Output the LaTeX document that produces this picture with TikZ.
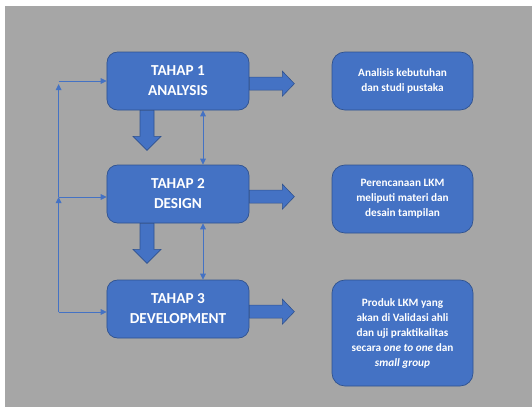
\documentclass[tikz,border=0pt]{standalone}
\usepackage{fontspec}
\setmainfont{Carlito}
\usepackage{tikz}
\usetikzlibrary{arrows.meta, positioning}

\definecolor{bgrey}{HTML}{A6A6A6}
\definecolor{oblue}{HTML}{4472C4}
\definecolor{oedge}{HTML}{2F528F}

\tikzset{
  tahap/.style={draw=oedge, fill=oblue, rounded corners=9pt, line width=0.6pt,
    minimum width=4.26cm, minimum height=1.74cm, text=white, align=center,
    font=\fontsize{13}{17}\selectfont\bfseries},
  ket/.style={draw=oedge, fill=oblue, rounded corners=11pt, line width=0.6pt,
    minimum width=4.23cm, text=white, align=center,
    font=\fontsize{9.6}{12.8}\selectfont\bfseries},
  blok/.style={draw=oedge, fill=oblue, line width=0.5pt},
  tipis/.style={draw=oblue, line width=0.8pt, -{Triangle[length=1.8mm,width=1.7mm]}},
  dua/.style={draw=oblue, line width=0.8pt, {Triangle[length=1.8mm,width=1.7mm]}-{Triangle[length=1.8mm,width=1.7mm]}}
}

\begin{document}
\begin{tikzpicture}[x=0.03cm, y=-0.03cm]
		% background
		\useasboundingbox (0,0) rectangle (532,407);
		\fill[white] (0,0) rectangle (532,407);
		\fill[bgrey] (5,6) rectangle (532,407);
		
		% Stages (left)
		\node[tahap] (b1) at (178,81) {TAHAP 1\\ANALYSIS};
		\node[tahap] (b2) at (178,194) {TAHAP 2\\DESIGN};
		\node[tahap] (b3) at (178,309) {TAHAP 3\\DEVELOPMENT};
		
		% Descriptions (right)
		\node[ket, minimum height=1.74cm] (r1) at (402.5,81) {Analisis kebutuhan\\dan studi pustaka};
		\node[ket, minimum height=2.04cm] (r2) at (402.5,199) {Perencanaan LKM\\meliputi materi dan\\desain tampilan};
		\node[ket, minimum height=3.18cm] (r3) at (402.5,333) {Produk LKM yang\\akan di Validasi ahli\\dan uji praktikalitas\\secara \textit{one to one} dan\\\textit{small group}};
		
		% Block arrows to the right
		\foreach \b in {b1,b2,b3}{
			\draw[blok] ([yshift=-0.08cm]\b.east) ++(0,-6.5) -- ++(33,0) -- ++(0,-6) -- ++(12,12.5)
				-- ++(-12,12.5) -- ++(0,-6) -- ++(-33,0) -- cycle;
		}
		
		% Block arrows down
		\foreach \b in {b1,b2}{
			\draw[blok] ([xshift=-0.93cm]\b.south) ++(-7,0) -- ++(0,26) -- ++(-7,0) -- ++(14,14)
				-- ++(14,-14) -- ++(-7,0) -- ++(0,-26) -- cycle;
		}
		
		% Two-way links
		\draw[dua] ([xshift=0.75cm]b1.south) -- ([xshift=0.75cm]b2.north);
		\draw[dua] ([xshift=0.75cm]b2.south) -- ([xshift=0.75cm]b3.north);
		
		% Feedback line (left)
		\coordinate (l1) at ([xshift=-1.44cm]b1.west);
		\coordinate (l2) at ([xshift=-1.44cm,yshift=-0.09cm]b2.west);
		\coordinate (l3) at ([xshift=-1.44cm,yshift=-0.09cm]b3.west);
		\draw[tipis] (l3) -- (l2);
		\draw[tipis] (l2) -- ([yshift=-0.09cm]l1);
		\draw[tipis] (l1) -- (b1.west);
		\draw[tipis] (l2) -- (l2 -| b2.west);
		\draw[tipis] (l3) -- (l3 -| b3.west);
	\end{tikzpicture}
\end{document}
